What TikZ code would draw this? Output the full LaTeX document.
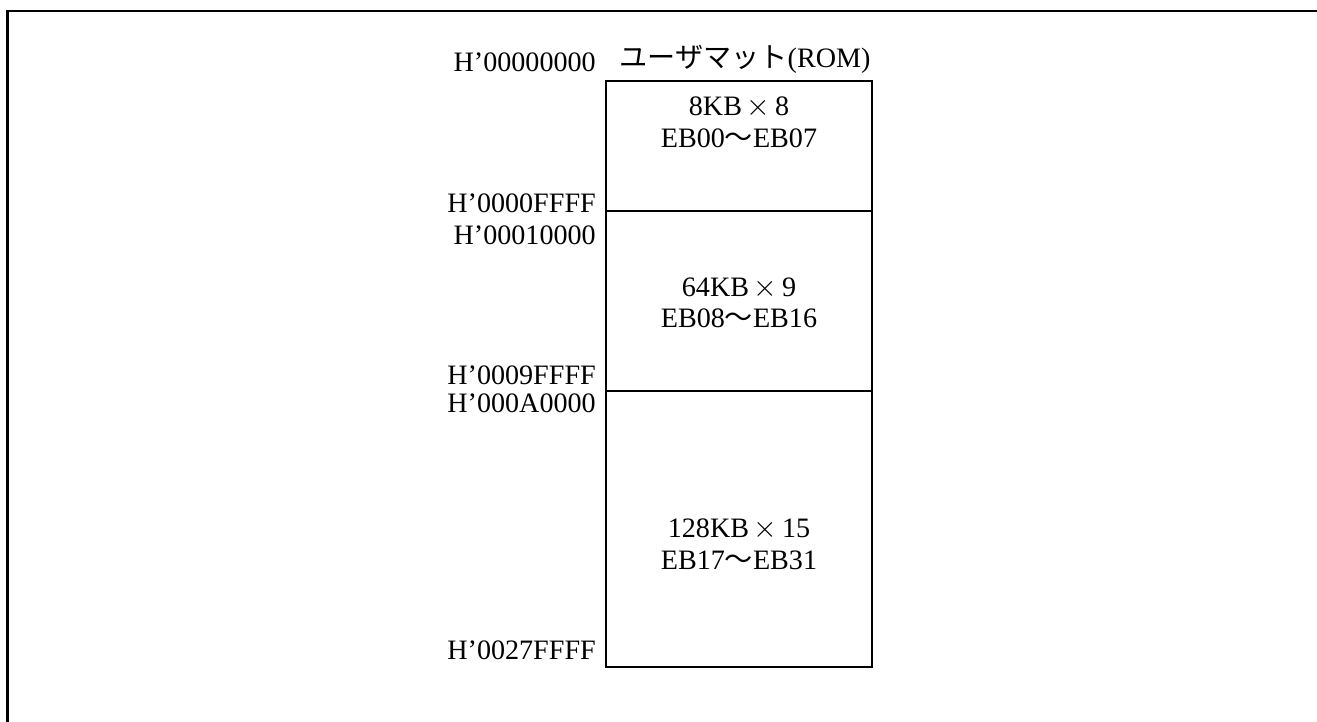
\documentclass[tikz,border=0pt]{standalone}
\usepackage{fontspec}
\setmainfont{Liberation Serif}
\newfontfamily\cjk{Noto Sans CJK JP}
\usetikzlibrary{positioning}
\newcommand{\lblsize}{\fontsize{16pt}{19pt}\selectfont}

\begin{document}
\begin{tikzpicture}
\useasboundingbox (0,0) rectangle (26.34,14.44);
\draw[line width=1.4pt] (0.15,0) -- (0.15,14.22) -- (26.34,14.22);

% memory blocks
\draw[line width=0.9pt] (12.12,1.1) rectangle (17.44,12.82);
\draw[line width=0.9pt] (12.12,10.22) -- (17.44,10.22);
\draw[line width=0.9pt] (12.12,6.62) -- (17.44,6.62);

\node[font=\lblsize, anchor=center] (title) at (14.9,13.26) {{\cjk ユーザマット}(ROM)};

% addresses
\node[font=\lblsize, anchor=east] (a0) at (12.04,13.2) {H'00000000};
\node[font=\lblsize, anchor=east] (a1) at (12.04,10.38) {H'0000FFFF};
\node[font=\lblsize, anchor=east] (a2) at (12.04,9.74) {H'00010000};
\node[font=\lblsize, anchor=east] (a3) at (12.04,6.94) {H'0009FFFF};
\node[font=\lblsize, anchor=east] (a4) at (12.04,6.38) {H'000A0000};
\node[font=\lblsize, anchor=east] (a5) at (12.04,1.44) {H'0027FFFF};

% block sizes
\node[font=\lblsize] (s0) at (14.78,12.3) {8KB\,$\times$\,8};
\node[font=\lblsize] (e0) at (14.78,11.68) {EB00{\cjk ～}EB07};
\node[font=\lblsize] (s1) at (14.78,8.68) {64KB\,$\times$\,9};
\node[font=\lblsize] (e1) at (14.78,8.08) {EB08{\cjk ～}EB16};
\node[font=\lblsize] (s2) at (14.78,3.86) {128KB\,$\times$\,15};
\node[font=\lblsize] (e2) at (14.78,3.24) {EB17{\cjk ～}EB31};
\end{tikzpicture}
\end{document}
